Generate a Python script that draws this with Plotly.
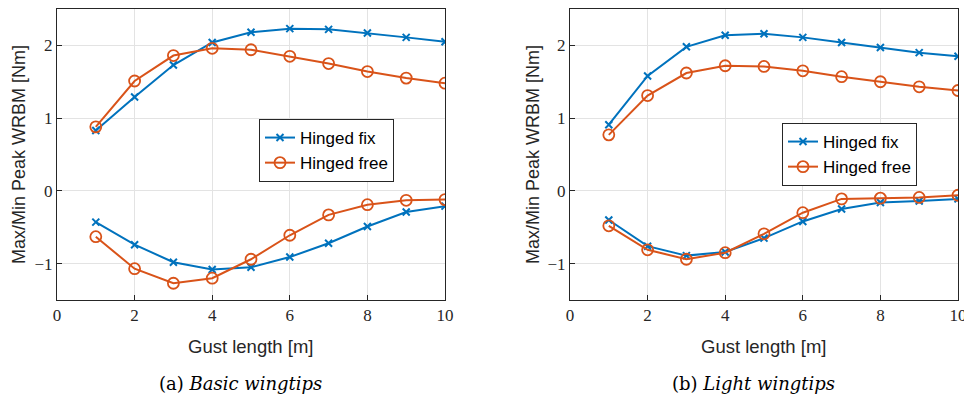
import plotly.graph_objects as go

gust = [1, 2, 3, 4, 5, 6, 7, 8, 9, 10]

# (a) Basic wingtips
a_fix_max = [0.83, 1.29, 1.73, 2.04, 2.18, 2.23, 2.22, 2.17, 2.11, 2.05]
a_free_max = [0.88, 1.51, 1.86, 1.96, 1.94, 1.85, 1.75, 1.64, 1.55, 1.48]
a_fix_min = [-0.43, -0.74, -0.98, -1.08, -1.05, -0.91, -0.72, -0.49, -0.29, -0.21]
a_free_min = [-0.63, -1.07, -1.27, -1.20, -0.94, -0.61, -0.33, -0.19, -0.13, -0.12]

# (b) Light wingtips
b_fix_max = [0.91, 1.58, 1.98, 2.14, 2.16, 2.11, 2.04, 1.97, 1.90, 1.85]
b_free_max = [0.77, 1.31, 1.62, 1.72, 1.71, 1.65, 1.57, 1.50, 1.43, 1.38]
b_fix_min = [-0.40, -0.76, -0.89, -0.84, -0.65, -0.42, -0.25, -0.16, -0.14, -0.11]
b_free_min = [-0.48, -0.81, -0.94, -0.85, -0.59, -0.30, -0.11, -0.10, -0.09, -0.06]

x_ticks = [0, 2, 4, 6, 8, 10]
y_ticks = [-1, 0, 1, 2]
series_names = ["Hinged fix", "Hinged free"]
captions = ["(a) <i>Basic wingtips</i>", "(b) <i>Light wingtips</i>"]
x_title = "Gust length [m]"
y_title = "Max/Min Peak WRBM [Nm]"

BLUE = "#0072BD"
ORANGE = "#D95319"
OFF = 8                      # default page body margin
W, H = 972 - OFF, 401 - OFF  # figure size fitting the window
SANS = "Liberation Sans, Arial, sans-serif"
SERIF = "Liberation Serif, serif"


def px(x):
    return (x - OFF) / W


def py(y):
    return 1 - (y - OFF) / H


fig = go.Figure()

panels = [
    (a_fix_max, a_fix_min, a_free_max, a_free_min, "x", "y", "legend"),
    (b_fix_max, b_fix_min, b_free_max, b_free_min, "x2", "y2", "legend2"),
]

for fmax, fmin, rmax, rmin, xa, ya, lg in panels:
    for i, ys in enumerate([fmax, fmin]):
        fig.add_trace(go.Scatter(
            x=gust, y=ys, xaxis=xa, yaxis=ya, mode="lines+markers",
            name=series_names[0], legend=lg, legendgroup=lg + "fix",
            showlegend=(i == 0),
            line=dict(color=BLUE, width=2),
            marker=dict(symbol="x-thin", size=7, line=dict(color=BLUE, width=2)),
        ))
    for i, ys in enumerate([rmax, rmin]):
        fig.add_trace(go.Scatter(
            x=gust, y=ys, xaxis=xa, yaxis=ya, mode="lines+markers",
            name=series_names[1], legend=lg, legendgroup=lg + "free",
            showlegend=(i == 0),
            line=dict(color=ORANGE, width=2),
            marker=dict(symbol="circle-open", size=11, line=dict(color=ORANGE, width=1.8)),
        ))

axis_common = dict(
    showline=True, mirror=True, linecolor="#262626", linewidth=1,
    ticks="inside", ticklen=5, tickcolor="#262626", automargin=False,
    showgrid=True, gridcolor="#e3e3e3", gridwidth=1, zeroline=False,
    tickfont=dict(family=SERIF, size=17, color="#262626"),
)

xd1 = [px(57), px(445)]
xd2 = [px(570), px(958)]
yd = [py(300), py(9)]

legend_common = dict(
    xanchor="left", yanchor="top",
    bordercolor="#262626", borderwidth=1, bgcolor="white",
    font=dict(family=SANS, size=17, color="black"),
    tracegroupgap=0, itemwidth=30,
)

fig.update_layout(
    width=W, height=H,
    margin=dict(l=0, r=0, t=0, b=0),
    paper_bgcolor="white", plot_bgcolor="white",
    xaxis=dict(domain=xd1, range=[0, 10], tickvals=x_ticks, anchor="y", **axis_common),
    yaxis=dict(domain=yd, range=[-1.5, 2.5], tickvals=y_ticks, anchor="x", **axis_common),
    xaxis2=dict(domain=xd2, range=[0, 10], tickvals=x_ticks, anchor="y2", **axis_common),
    yaxis2=dict(domain=yd, range=[-1.5, 2.5], tickvals=y_ticks, anchor="x2", **axis_common),
    legend=dict(x=px(259), y=py(119), **legend_common),
    legend2=dict(x=px(782), y=py(123), **legend_common),
    showlegend=True,
)

annotations = []
for xt_cx, cap_cx, ytx, cap in [(250, 240, 19, captions[0]), (763, 753, 533, captions[1])]:
    annotations.append(dict(x=px(xt_cx), y=py(346), xref="paper", yref="paper", text=x_title,
                            showarrow=False, xanchor="center", yanchor="middle",
                            font=dict(family=SANS, size=18.5, color="#262626")))
    annotations.append(dict(x=px(ytx), y=py(155), xref="paper", yref="paper", text=y_title,
                            showarrow=False, textangle=-90, xanchor="center", yanchor="middle",
                            font=dict(family=SANS, size=18, color="#262626")))
    annotations.append(dict(x=px(cap_cx), y=py(383), xref="paper", yref="paper", text=cap,
                            showarrow=False, xanchor="center", yanchor="middle",
                            font=dict(family="DejaVu Serif, serif", size=18, color="black")))
fig.update_layout(annotations=annotations)

fig.write_html("out.html")
